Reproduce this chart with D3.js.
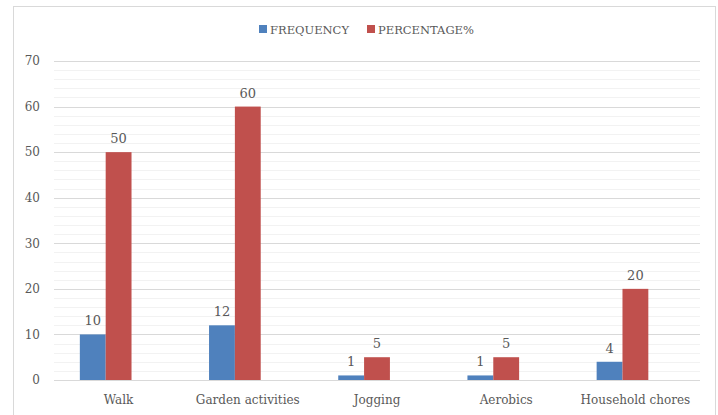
<!DOCTYPE html>
<html>
<head>
<meta charset="utf-8">
<script src="https://cdn.jsdelivr.net/npm/d3@7"></script>
<style>
  body { margin: 0; background: #fff; }
  text { font-family: "DejaVu Serif", serif; fill: #595959; }
</style>
</head>
<body>
<div id="chart"></div>
<script>
// chart data
const categories = ["Walk", "Garden activities", "Jogging", "Aerobics", "Household chores"];
const seriesNames = ["FREQUENCY", "PERCENTAGE%"];
const frequency = [10, 12, 1, 1, 4];
const percentage = [50, 60, 5, 5, 20];
const yTicks = [0, 10, 20, 30, 40, 50, 60, 70];
const colors = ["#4F81BD", "#C0504D"];

const width = 718, height = 415;
const margin = {top: 61, right: 18, bottom: 35, left: 54};

const svg = d3.select("#chart").append("svg")
    .attr("width", width)
    .attr("height", height);

// outer frame
svg.append("rect")
    .attr("x", 13.5).attr("y", 6.5)
    .attr("width", 702).attr("height", 420)
    .attr("fill", "none")
    .attr("stroke", "#D9D9D9");

const x = d3.scaleBand()
    .domain(categories)
    .range([margin.left, width - margin.right])
    .paddingInner(0)
    .paddingOuter(0);

// the source sheet reserves a third (empty) slot per group, so bars sit left of centre
const xInner = d3.scaleBand()
    .domain([0, 1, 2])
    .range([0, x.bandwidth()])
    .paddingInner(0)
    .paddingOuter(1);

const y = d3.scaleLinear()
    .domain([0, 70])
    .range([height - margin.bottom, margin.top]);

// minor gridlines
svg.append("g").selectAll("line")
    .data(d3.range(2, 70, 2).filter(v => v % 10 !== 0))
    .enter().append("line")
    .attr("x1", margin.left).attr("x2", width - margin.right)
    .attr("y1", d => Math.round(y(d)) + 0.5)
    .attr("y2", d => Math.round(y(d)) + 0.5)
    .attr("stroke", "#F2F2F2");

// major gridlines
svg.append("g").selectAll("line")
    .data(yTicks)
    .enter().append("line")
    .attr("x1", margin.left).attr("x2", width - margin.right)
    .attr("y1", d => Math.round(y(d)) + 0.5)
    .attr("y2", d => Math.round(y(d)) + 0.5)
    .attr("stroke", "#D9D9D9");

// y axis labels
const yAxis = svg.append("g")
    .attr("transform", "translate(" + (margin.left - 14) + ",0)")
    .call(d3.axisLeft(y).tickValues(yTicks).tickSize(0).tickPadding(0));
yAxis.select(".domain").remove();
yAxis.selectAll("text")
    .style("font-family", "DejaVu Serif, serif")
    .style("font-size", "12px")
    .attr("fill", "#595959");

// x axis labels
const xAxis = svg.append("g")
    .attr("transform", "translate(0," + (height - margin.bottom) + ")")
    .call(d3.axisBottom(x).tickSize(0).tickPadding(15));
xAxis.select(".domain").remove();
xAxis.selectAll("text")
    .style("font-family", "DejaVu Serif, serif")
    .style("font-size", "12px")
    .attr("fill", "#595959");

const rows = categories.map((c, i) => ({cat: c, values: [frequency[i], percentage[i]]}));

const groups = svg.append("g").selectAll("g")
    .data(rows)
    .enter().append("g")
    .attr("transform", d => "translate(" + x(d.cat) + ",0)");

groups.selectAll("rect")
    .data(d => d.values.map((v, j) => ({value: v, j: j})))
    .enter().append("rect")
    .attr("x", d => xInner(d.j))
    .attr("width", xInner.bandwidth())
    .attr("y", d => y(d.value))
    .attr("height", d => y(0) - y(d.value))
    .attr("fill", d => colors[d.j]);

groups.selectAll("text.val")
    .data(d => d.values.map((v, j) => ({value: v, j: j})))
    .enter().append("text")
    .attr("class", "val")
    .attr("x", d => xInner(d.j) + xInner.bandwidth() / 2)
    .attr("y", d => y(d.value) - 9)
    .attr("text-anchor", "middle")
    .style("font-size", "13px")
    .text(d => d.value);

// legend
const legend = svg.append("g");
const legendX = [259, 367];
seriesNames.forEach((name, i) => {
    legend.append("rect")
        .attr("x", legendX[i]).attr("y", 25)
        .attr("width", 8).attr("height", 8)
        .attr("fill", colors[i]);
    legend.append("text")
        .attr("x", legendX[i] + 11).attr("y", 34)
        .style("font-size", "11.5px")
        .text(name);
});
</script>
</body>
</html>
